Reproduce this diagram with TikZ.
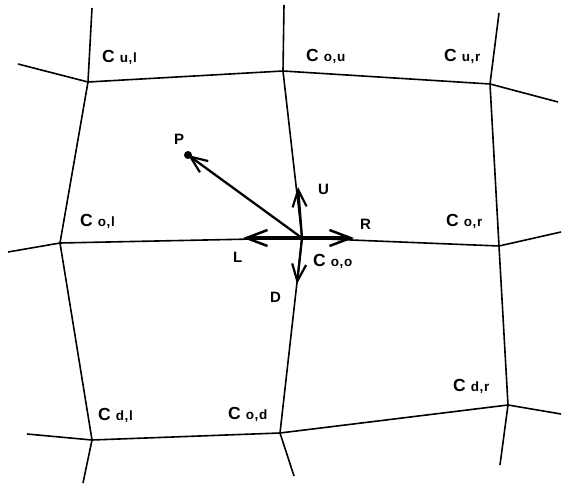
\documentclass[tikz,border=0pt]{standalone}
\usepackage{fontspec}
\setmainfont{Liberation Sans}
\usetikzlibrary{arrows.meta}
\newcommand{\cellab}[2]{C\hspace{5pt}{\fontsize{13.5}{13.5}\selectfont #1\hspace{0.6pt},\hspace{0.6pt}#2}}
\tikzset{
  gridline/.style={line width=1.6pt, line join=round},
  vec/.style={line width=2.3pt, -{Straight Barb[length=17pt,width=14pt,line width=2.2pt]}},
  bigvec/.style={line width=3.6pt, -{Straight Barb[length=21pt,width=16pt,line width=2.5pt]}},
  lab/.style={anchor=base west, inner sep=0pt, font=\fontsize{17.5}{17.5}\selectfont\bfseries},
  letter/.style={anchor=base west, inner sep=0pt, font=\fontsize{15}{15}\selectfont\bfseries}
}
\begin{document}
\begin{tikzpicture}[x=1pt,y=-1pt]
\useasboundingbox (0,0) rectangle (562,486);
% grid points
\coordinate (a0) at (92,8);   \coordinate (ul) at (88,82);  \coordinate (ol) at (60,243);
\coordinate (dl) at (92,440); \coordinate (a1) at (83,483);
\coordinate (b0) at (284,5);  \coordinate (ou) at (283,71); \coordinate (oo) at (302,238);
\coordinate (od) at (280,433);\coordinate (b1) at (294,476);
\coordinate (c0) at (499,13); \coordinate (ur) at (490,84); \coordinate (or) at (499,246);
\coordinate (dr) at (508,405);\coordinate (c1) at (500,465);
\coordinate (t0) at (18,64);  \coordinate (t1) at (558,102);
\coordinate (m0) at (8,252);  \coordinate (m1) at (561,232);
\coordinate (d0) at (27,434); \coordinate (d1) at (561,414);
% grid lines
\draw[gridline] (a0) -- (ul) -- (ol) -- (dl) -- (a1);
\draw[gridline] (b0) -- (ou) -- (oo) -- (od) -- (b1);
\draw[gridline] (c0) -- (ur) -- (or) -- (dr) -- (c1);
\draw[gridline] (t0) -- (ul) -- (ou) -- (ur) -- (t1);
\draw[gridline] (m0) -- (ol) -- (oo) -- (or) -- (m1);
\draw[gridline] (d0) -- (dl) -- (od) -- (dr) -- (d1);
% vector end points
\coordinate (pP) at (188,155);
\coordinate (pL) at (243,238);
\coordinate (pR) at (354,238);
\coordinate (pU) at (298,187);
\coordinate (pD) at (297,284);
\fill (pP) circle (4pt);
\draw[vec] (oo) -- (pP);
\draw[vec] (oo) -- (pU);
\draw[vec] (oo) -- (pD);
\draw[bigvec] (oo) -- (pL);
\draw[bigvec] (oo) -- (pR);
% labels
\node[lab] (lul) at (102,63) {\cellab{u}{l}};
\node[lab] (lou) at (306,62) {\cellab{o}{u}};
\node[lab] (lur) at (444,62) {\cellab{u}{r}};
\node[lab] (lol) at (80,227) {\cellab{o}{l}};
\node[lab] (lor) at (446,227) {\cellab{o}{r}};
\node[lab] (loo) at (313,267) {\cellab{o}{o}};
\node[lab] (ldl) at (98,420) {\cellab{d}{l}};
\node[lab] (lod) at (228,419) {\cellab{o}{d}};
\node[lab] (ldr) at (453,391) {\cellab{d}{r}};
\node[letter] (lP) at (174,145) {P};
\node[letter] (lU) at (318,195) {U};
\node[letter] (lR) at (360,230) {R};
\node[letter] (lL) at (233,262) {L};
\node[letter] (lD) at (270,302) {D};
\end{tikzpicture}
\end{document}
